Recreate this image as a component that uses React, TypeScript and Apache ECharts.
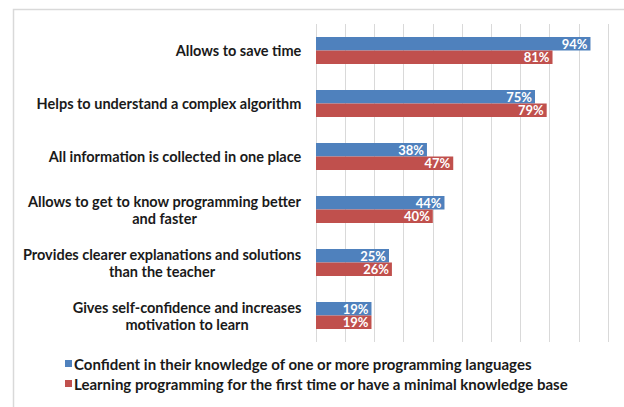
import React, { useEffect, useRef } from "react";
import * as echarts from "echarts";

const categories: string[] = [
  "Allows to save time",
  "Helps to understand a complex algorithm",
  "All information is collected in one place",
  "Allows to get to know programming better\nand faster",
  "Provides clearer explanations and solutions\nthan the teacher",
  "Gives self-confidence and increases\nmotivation to learn",
];
const confidentValues: number[] = [94, 75, 38, 44, 25, 19];
const beginnerValues: number[] = [81, 79, 47, 40, 26, 19];
const seriesNames: string[] = [
  "Confident in their knowledge of one or more programming languages",
  "Learning programming for the first time or have a minimal knowledge base",
];

const FONT = "Lato, 'Open Sans', sans-serif";
const LABEL_FONT_SIZE = 14.5;

function measure(text: string): number {
  const c = document.createElement("canvas").getContext("2d");
  if (!c) return text.length * 7.5;
  c.font = `bold ${LABEL_FONT_SIZE}px Lato`;
  return c.measureText(text).width;
}

export default function App() {
  const ref = useRef<HTMLDivElement>(null);
  useEffect(() => {
    if (!ref.current) return;
    const chart = echarts.init(ref.current, undefined, { renderer: "svg" });
    const rich: Record<string, any> = {};
    categories.forEach((c, i) => {
      const w = Math.max(...c.split("\n").map(measure));
      rich["l" + i] = {
        width: Math.ceil(w) + 1,
        align: "center",
        fontFamily: FONT,
        fontWeight: "bold",
        fontSize: LABEL_FONT_SIZE,
        color: "#1a1a1a",
        lineHeight: 17,
      };
    });
    const labelStyle = {
      show: true,
      position: "insideRight" as const,
      distance: 3,
      color: "#ffffff",
      fontFamily: FONT,
      fontWeight: "bold" as const,
      fontSize: 13,
      lineHeight: 12,
      formatter: "{c}%",
    };
    chart.setOption({
      animation: false,
      backgroundColor: "#ffffff",
      graphic: [
        {
          type: "rect",
          shape: { x: 13.5, y: 9.5, width: 640, height: 420 },
          style: { fill: "none", stroke: "#d9d9d9", lineWidth: 1.5 },
          silent: true,
        },
      ],
      grid: { left: 316, top: 24, width: 292, height: 318, containLabel: false },
      xAxis: {
        type: "value",
        min: 0,
        max: 100,
        interval: 10,
        axisLabel: { show: false },
        axisLine: { show: false },
        axisTick: { show: false },
        splitLine: { show: true, lineStyle: { color: "#d9d9d9", width: 1 } },
      },
      yAxis: {
        type: "category",
        inverse: true,
        data: categories,
        axisLine: { show: false },
        axisTick: { show: false },
        axisLabel: {
          margin: 14,
          formatter: (value: string) => {
            const idx = categories.indexOf(value);
            return value
              .split("\n")
              .map((line) => `{l${idx}|${line}}`)
              .join("\n");
          },
          rich,
        },
      },
      legend: {
        orient: "vertical",
        left: 60,
        top: 351,
        itemWidth: 7,
        itemHeight: 7,
        itemGap: 5,
        icon: "rect",
        textStyle: {
          fontFamily: FONT,
          fontWeight: "bold",
          fontSize: 15,
          color: "#1a1a1a",
          padding: [0, 0, 0, -3],
        },
        data: seriesNames,
      },
      series: [
        {
          name: seriesNames[0],
          type: "bar",
          data: confidentValues,
          barWidth: 13.5,
          barGap: "0%",
          itemStyle: { color: "#4F81BD" },
          label: labelStyle,
        },
        {
          name: seriesNames[1],
          type: "bar",
          data: beginnerValues,
          barWidth: 13.5,
          barGap: "0%",
          itemStyle: { color: "#C0504D" },
          label: labelStyle,
        },
      ],
    });
    return () => chart.dispose();
  }, []);
  return (
    <div
      ref={ref}
      style={{ position: "absolute", left: 0, top: 0, width: 624, height: 407 }}
    />
  );
}
